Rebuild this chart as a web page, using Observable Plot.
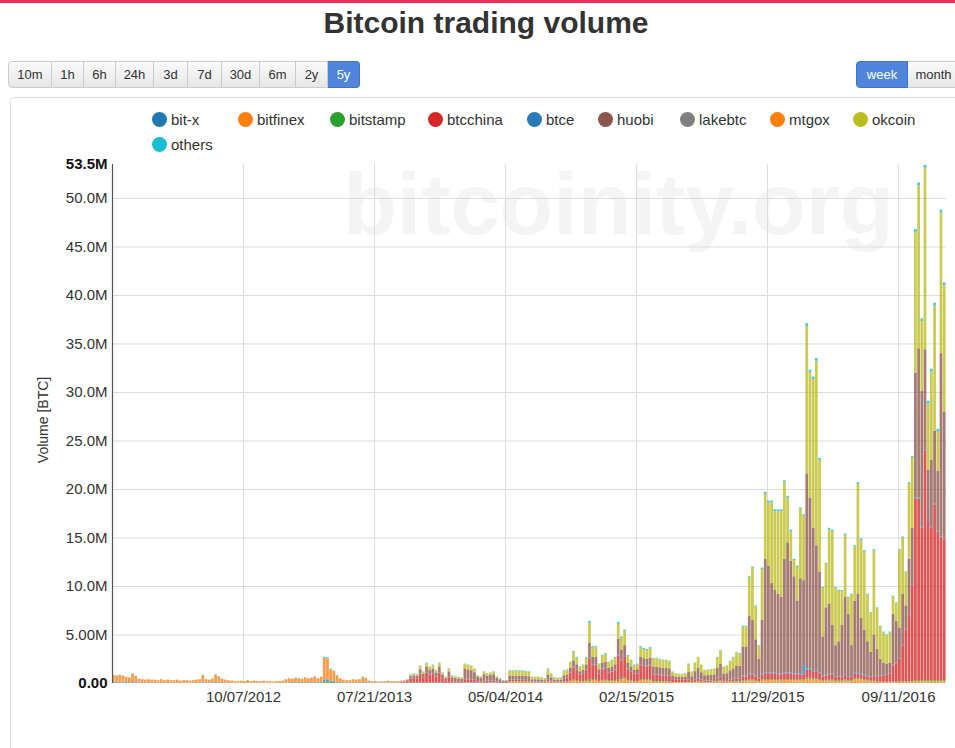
<!DOCTYPE html>
<html><head><meta charset="utf-8">
<script src="https://cdn.jsdelivr.net/npm/d3@7"></script>
<script src="https://cdn.jsdelivr.net/npm/@observablehq/plot@0.6"></script>
<style>
body{margin:0;width:955px;height:748px;overflow:hidden;background:#fff;font-family:"Liberation Sans",Arial,sans-serif;position:relative;color:#333;}
#topline{position:absolute;left:0;top:0;width:955px;height:3px;background:#ee2c5a;}
#title{position:absolute;top:5px;left:0;width:972px;text-align:center;font-size:30px;font-weight:bold;color:#333;line-height:36px;}
#btns{position:absolute;top:61px;left:8px;height:27px;display:flex;}
.btn{box-sizing:border-box;height:27px;line-height:25px;text-align:center;font-size:13px;color:#333;border:1px solid #ccc;border-left:none;background:linear-gradient(#fbfbfb,#e6e6e6);}
.btn.first{border-left:1px solid #ccc;border-radius:4px 0 0 4px;}
.btn.act{background:#4f86dc;color:#fff;border-color:#3f74c8;}
.btn.last{border-radius:0 4px 4px 0;}
#right{position:absolute;top:61px;left:856px;display:flex;}
#panel{position:absolute;left:10px;top:97px;width:960px;height:700px;border:1px solid #ddd;border-radius:4px;box-sizing:border-box;}
#wm{position:absolute;left:343px;top:160px;font-size:88px;line-height:88px;font-weight:bold;color:#f4f4f4;white-space:nowrap;}
#chart{position:absolute;left:0;top:100px;}
.leg{position:absolute;font-size:15px;line-height:18px;white-space:nowrap;}
.leg i{display:inline-block;width:15px;height:15px;border-radius:50%;vertical-align:-2px;margin-right:4px;}
#ylab{position:absolute;left:43px;top:420px;transform:translate(-50%,-50%) rotate(-90deg);font-size:14px;white-space:nowrap;}
</style></head>
<body>
<div id="topline"></div>
<div id="title">Bitcoin trading volume</div>
<div id="btns"></div>
<div id="right"><div class="btn first act" style="width:52px">week</div><div class="btn" style="width:52px">month</div></div>
<div id="panel"></div>
<div id="wm">bitcoinity.org</div>
<div id="chart"></div>
<div id="legend"></div>
<div id="ylab">Volume [BTC]</div>
<script>
// ---- data (weekly volume, unit = 10,000 BTC; each series begins at week index *Start) ----
const firstWeek = new Date(Date.UTC(2011, 11, 25));
const weekCount = 261;
const exchanges = ["bit-x","bitfinex","bitstamp","btcchina","btce","huobi","lakebtc","mtgox","okcoin","others"];
const exchangeColors = ["#1f77b4","#ff7f0e","#2ca02c","#d62728","#2a7ab8","#8c564b","#7f7f7f","#ff7f0e","#bcbd22","#17becf"];
const xTickDates = ["2012-10-07","2013-07-21","2014-05-04","2015-02-15","2015-11-29","2016-09-11"];
const yGridValues = [5e6,10e6,15e6,20e6,25e6,30e6,35e6,40e6,45e6,50e6];
const yBoldTicks = [0, 53.5e6];
const buttonLabels = ["10m","1h","6h","24h","3d","7d","30d","6m","2y","5y"];

const mtgoxStart = 0;
const mtgox = [66,62,66,60,50,46,78,58, 35,31,27,31,27,
27,23,31,23,27,23,23,27,19,23,23,19,23,27,31,
66,31,27,35,70,54,35,27,
23,19,15,15,19,15,23,15,19,15,15,19,15,15,11,15,15,19,
31,39,35,43,39,35,47,39,43,55,39,51,
220,215,120,100,60,38,
26,22,22,30,26,30,50,42,
17,13,13,9,13,13,17,13,12,11,12,10,
5,6,6,6,10,7,12,10,11,8,12,7,4,9,
4,3,3,3,10,10,8,5];

const btceStart = 0;
const btce = [8,8,8,8,6,6,10,7, 4,4,3,4,3,
3,3,4,3,3,3,3,3,2,3,3,2,3,3,4,
8,4,3,4,9,7,4,3,
3,2,2,2,2,2,3,2,2,2,2,2,2,2,2,2,2,2,
4,5,4,5,5,4,6,5,5,7,5,6,
20,20,12,12,8,5,
3,3,3,4,3,4,6,5,
3,3,3,2,3,3,3,3,3,3,4,4,
2,4,4,4,6,4,7,6,7,5,7,4,3,6,
3,2,2,2,6,6,6,5,
3,3,4,3,4,4,3,2,1,1,
5,5,5,5,5,5,4,2,2,2,2,2,6,4,2,2,2,5,5,
4,7,5,3,4,5,10,8,8,4, 6,6,4,5,5,10,10,11,6,5, 4,4,8,7,7,7,5,5,5,5, 5,5,2,2,2,2,2,4,2,4, 5,4,3,3,3,3,5,7,
3,3,4,5,5,5,8,8,10,10, 8,5,10,10,10,10,10,10,10,10, 10,10,10,10,10,100,15,15,15,15, 10,7,7,10,10,7,7,7,10,7, 7,10,10,10,10,7,6,7,6,5, 5,5,5,5,5,5,5,5,5,5, 10,10,10,10,10,10,10,10,10,10];

const bitstampStart = 0;
const bitstamp = [6,5,6,5,5,4,7,5, 3,3,3,3,3,
3,2,3,2,3,2,2,3,2,2,2,2,2,3,3,
6,3,3,3,6,5,3,3,
2,2,2,2,2,2,2,2,2,2,2,2,2,2,1,2,2,2,
3,4,4,4,4,4,4,4,4,5,4,5,
18,18,10,10,6,4,
3,3,3,3,3,3,5,4,
3,2,2,2,2,2,3,2,2,2,3,3,
2,4,4,4,6,4,7,6,6,5,7,4,2,5,
3,3,2,2,6,6,6,5,
3,2,4,3,4,4,2,2,1,1,
5,5,6,5,5,5,5,3,3,3,2,2,6,4,2,2,2,5,5,
7,10,8,5,6,8,15,11,11,6, 9,9,7,7,8,15,14,16,9,7, 6,6,11,11,10,11,8,8,8,7, 7,7,4,3,3,3,3,6,4,6, 8,6,4,4,4,5,8,10,
5,5,6,6,7,7,8,8,10,10, 8,5,10,10,10,10,10,10,10,10, 10,10,10,10,10,10,15,15,15,15, 10,8,8,10,10,8,8,8,10,8, 8,10,10,10,10,8,7,8,7,5, 5,5,5,5,5,5,5,5,5,5, 10,10,10,10,10,10,10,10,10,10];

const bitfinexStart = 110;
const bitfinex = [3,3,3,3,2,2,3,3,3,3,2,1,1,1,
13,13,13,13,13,12,12,7,7,7,6,5,15,10,6,5,6,10,10,
18,26,22,14,15,22,20,30,30,16, 23,25,18,19,22,20,38,44,23,19, 15,16,30,29,28,30,13,13,12,12, 12,11,6,5,5,5,5,10,6,10, 13,10,7,7,7,8,13,17,
8,8,10,12,14,14,20,20,25,25, 20,12,25,30,30,30,30,25,25,30, 30,30,30,30,30,25,40,40,35,35, 30,20,25,25,25,20,20,20,25,20, 20,40,40,35,30,25,20,15,10,8, 8,8,8,8,8,10,10,10,15,15, 20,20,20,20,20,20,20,20,20,20];

const btcchinaStart = 88;
const btcchina = [1,2,4,10,
16,40,45,42,85,55,100,78,88,60,95,45,25,55,
14,12,10,9,30,28,27,22,
12,10,18,15,16,18,10,7,4,4,
13,13,14,13,13,12,12,6,6,6,6,5,15,10,6,6,6,30,35,
84,125,103,65,72,103,220,144,144,76, 110,118,84,91,103,250,182,209,110,91, 72,76,144,137,133,140,65,65,62,60, 60,57,30,25,23,23,25,20,12,21, 27,19,13,14,14,15,27,34,
15,15,20,22,25,25,40,40,50,50, 40,25,50,60,60,60,60,55,55,60, 60,60,50,50,50,50,80,80,70,70, 60,40,45,50,50,35,35,35,45,35, 35,45,45,40,40,35,35,50,50,60, 60,70,80,170,190,235,375,535,680,980, 1870,1870,1570,2370,1640,1570,1810,1530,1470,1460];

const huobiStart = 92;
const huobi = [8,22,25,24,45,30,52,43,48,35,55,32,20,50,
38,34,32,30,100,95,90,76,
42,37,62,52,57,62,37,26,15,15,
39,39,40,39,39,38,36,20,20,20,18,15,45,30,18,17,18,30,32,
44,66,54,34,38,54,150,76,76,40, 58,62,44,48,54,160,96,110,58,48, 38,40,76,72,70,74,78,78,75,72, 72,69,36,30,29,29,30,76,46,81, 104,72,52,54,56,57,104,130,
65,70,90,105,130,125,300,300,595,555, 374,203,555,1170,1100,920,850,820,790,1170, 1340,1150,1000,750,980,875,2010,1760,1465,1285, 1040,405,695,725,505,320,360,530,800,640, 320,745,815,575,460,355,252,420,277,172, 132,112,112,522,432,315,525,245,575,595, 1290,1540,1400,1030,520,690,750,620,1890,1300];

const okcoinStart = 92;
const okcoin = [4,10,12,11,22,15,25,21,23,17,27,14,8,20,
15,13,13,12,40,38,36,30,
16,14,24,20,22,24,14,10,6,6,
48,48,50,48,48,46,44,24,24,24,23,19,55,37,23,20,23,43,45,
57,86,70,44,49,70,205,99,99,52, 75,81,57,63,70,155,125,143,75,63, 49,52,99,93,91,96,86,86,83,79, 79,76,40,33,31,31,33,80,48,84, 108,76,54,56,58,60,108,136,
70,75,95,115,133,128,204,204,395,535, 340,135,525,670,650,830,810,850,880,790, 460,300,165,345,715,665,1520,1290,1530,1900, 1150,500,450,765,965,590,520,350,635,170, 520,555,1130,805,805,480,400,865,420,330, 310,290,310,180,180,800,580,340,775,725, 1450,1680,720,1870,680,910,1290,400,1450,1300];

const othersStart = 0;
const others = [5,5,5,5,4,4,5,5, 3,2,2,2,2,
2,2,2,2,2,2,2,2,2,2,2,2,2,2,2,
5,2,2,3,5,4,3,2,
2,2,1,1,2,1,2,1,2,1,1,2,1,1,1,1,1,2,
2,2,2,3,2,2,3,2,3,3,2,3,
12,12,8,8,6,3,
3,2,2,3,3,3,4,4,
2,2,2,2,2,2,2,2,2,2,2,3,
3,4,4,4,6,5,7,6,7,5,7,4,3,5,
3,3,3,2,5,4,4,4,
2,2,5,4,4,5,2,2,2,2,
7,7,7,7,7,7,7,3,3,3,3,2,8,5,3,3,3,7,8,
6,10,8,5,6,8,20,12,12,6, 9,9,6,7,8,20,15,17,9,7, 6,6,12,11,11,12,5,5,5,5, 5,5,2,2,2,2,2,4,2,4, 5,3,2,2,3,2,5,6,
4,4,5,5,6,6,10,10,15,15, 10,5,15,20,20,20,20,20,20,20, 20,20,15,15,15,15,30,30,30,30, 20,10,10,15,15,10,10,10,15,10, 10,15,20,15,15,10,10,15,10,10, 10,10,10,10,10,10,10,10,15,15, 30,30,30,30,30,30,30,30,30,30];

// ---- build table ----
const seriesTable = [
  {name:"bitfinex", start:bitfinexStart, values:bitfinex},
  {name:"bitstamp", start:bitstampStart, values:bitstamp},
  {name:"btcchina", start:btcchinaStart, values:btcchina},
  {name:"btce", start:btceStart, values:btce},
  {name:"huobi", start:huobiStart, values:huobi},
  {name:"mtgox", start:mtgoxStart, values:mtgox},
  {name:"okcoin", start:okcoinStart, values:okcoin},
  {name:"others", start:othersStart, values:others}
];
const rows = [];
for (let w = 0; w < weekCount; w++) {
  const date = d3.utcWeek.offset(firstWeek, w);
  for (const s of seriesTable) {
    const k = w - s.start;
    if (k >= 0 && k < s.values.length) rows.push({date, exchange: s.name, value: s.values[k] * 1e4});
  }
}
const lastWeek = d3.utcWeek.offset(firstWeek, weekCount);
const xTicks = xTickDates.map(d => new Date(d + "T00:00:00Z"));
const fmtY = d3.format(".3s");

// ---- buttons & legend ----
const btnWidths = [44,32,32,38,34,34,38,36,32,32];
const btns = document.getElementById("btns");
buttonLabels.forEach((t,i) => {
  const b = document.createElement("div");
  b.className = "btn" + (i===0 ? " first" : "") + (t==="5y" ? " act last" : "");
  b.style.width = btnWidths[i] + "px";
  b.textContent = t;
  btns.appendChild(b);
});
const legPos = [[152,111],[238,111],[330,111],[428,111],[527,111],[598,111],[680,111],[770,111],[853,111],[152,136]];
const legend = document.getElementById("legend");
exchanges.forEach((e,i) => {
  const d = document.createElement("div");
  d.className = "leg";
  d.style.left = legPos[i][0] + "px";
  d.style.top = legPos[i][1] + "px";
  d.innerHTML = `<i style="background:${exchangeColors[i]}"></i>${e}`;
  legend.appendChild(d);
});

// ---- chart ----
const chart = Plot.plot({
  width: 955, height: 620,
  marginLeft: 112, marginRight: 9, marginTop: 64, marginBottom: 37,
  style: {background: "transparent", fontFamily: "Liberation Sans, Arial, sans-serif", fontSize: "15px", color: "#333", overflow: "visible"},
  x: {type: "utc", domain: [firstWeek, lastWeek]},
  y: {domain: [0, 53.5e6]},
  color: {domain: exchanges, range: exchangeColors},
  marks: [
    Plot.gridX(xTicks, {stroke: "#dcdcdc", strokeOpacity: 1}),
    Plot.gridY(yGridValues, {stroke: "#dcdcdc", strokeOpacity: 1}),
    Plot.rectY(rows, {x: "date", interval: d3.utcWeek, y: "value", fill: "exchange", fillOpacity: 0.78, insetRight: 0.45}),
    Plot.ruleX([firstWeek], {stroke: "#555", strokeWidth: 1.2}),
    Plot.axisX(xTicks, {tickFormat: d3.utcFormat("%m/%d/%Y"), tickSize: 0, tickPadding: 8, label: null, fill: "#333"}),
    Plot.axisY(yGridValues, {tickFormat: fmtY, tickSize: 0, tickPadding: 5, label: null, fill: "#333"}),
    Plot.axisY(yBoldTicks, {tickFormat: fmtY, tickSize: 0, tickPadding: 5, label: null, fill: "#111", fontWeight: "bold"})
  ]
});
document.getElementById("chart").appendChild(chart);
</script>
</body></html>
